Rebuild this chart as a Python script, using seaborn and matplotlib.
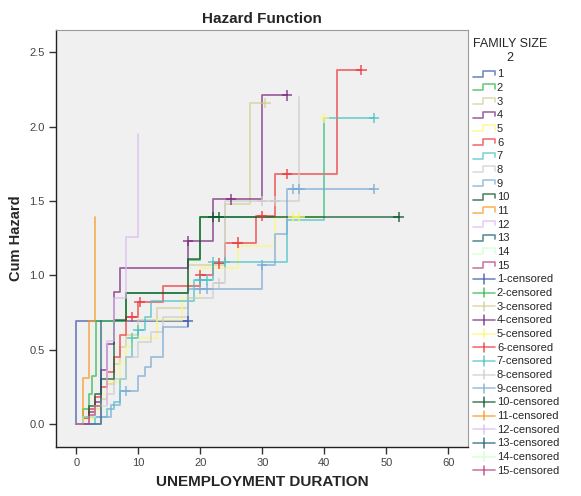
import numpy as np
import pandas as pd
import matplotlib
matplotlib.use("Agg")
import matplotlib.pyplot as plt
import seaborn as sns
from matplotlib.lines import Line2D
from matplotlib.legend_handler import HandlerBase

# ---------------- data ----------------
groups = [str(i) for i in range(1, 16)]
colors = ["#3E58AC", "#2EB848", "#D3CE97", "#7C287D", "#FBF873", "#EF3338", "#48C2C5",
          "#CCCCCC", "#7AAAD5", "#0A562C", "#F8981D", "#DDBAF1", "#1A5F76", "#CCFFCC", "#BB3F7F"]

t1 = [0];  h1 = [0.69];  end1 = 18; c1 = [18]
t2 = [1, 2, 2.5, 3.2, 8, 18, 20, 40];  h2 = [0.1, 0.2, 0.32, 0.69, 0.88, 1.1, 1.39, 2.06];  end2 = 40; c2 = []
t3 = [1, 2, 4, 5, 6, 7, 8, 10, 13, 18, 24, 28]
h3 = [0.05, 0.1, 0.17, 0.27, 0.4, 0.52, 0.6, 0.7, 0.78, 1.07, 1.48, 2.16];  end3 = 30.5; c3 = [30.5]
t4 = [1, 2, 3, 4, 5, 6, 7, 18, 22, 30]
h4 = [0.04, 0.08, 0.15, 0.36, 0.54, 0.89, 1.05, 1.23, 1.51, 2.21];  end4 = 34; c4 = [18, 25, 34]
t5 = [1, 3, 4, 5, 7, 8, 9, 13, 17, 20, 26, 32, 40]
h5 = [0.03, 0.1, 0.2, 0.28, 0.42, 0.52, 0.58, 0.7, 0.85, 1.05, 1.2, 1.39, 2.06];  end5 = 40; c5 = [9, 35, 36, 40]
t6 = [1, 2, 3, 4, 5, 6, 7, 8, 10, 14, 20, 22, 24, 29, 32, 42]
h6 = [0.04, 0.1, 0.18, 0.25, 0.35, 0.45, 0.6, 0.72, 0.82, 0.93, 1.0, 1.08, 1.22, 1.40, 1.68, 2.38]
end6 = 46; c6 = [9, 10.2, 20, 23, 26, 30, 34, 46]
t7 = [3, 5, 6, 7, 8, 9, 10, 11, 12, 19, 22, 34, 40]
h7 = [0.05, 0.1, 0.15, 0.3, 0.45, 0.58, 0.63, 0.72, 0.83, 0.97, 1.09, 1.37, 2.06];  end7 = 48
c7 = [9, 10, 20, 21, 22, 24, 48]
t8 = [2, 3, 5, 6, 8, 10, 12, 14, 18, 22, 24, 36]
h8 = [0.05, 0.12, 0.2, 0.3, 0.45, 0.55, 0.62, 0.72, 0.85, 0.95, 1.5, 2.2];  end8 = 36; c8 = [23, 30, 32]
t9 = [1, 5.5, 7, 10, 11, 12, 14, 18, 30, 32, 34]
h9 = [0.05, 0.13, 0.22, 0.32, 0.38, 0.45, 0.65, 0.91, 1.07, 1.28, 1.58];  end9 = 48
c9 = [8, 20, 21, 30, 35, 36, 48]
t10 = [1, 2, 3, 4, 6, 8, 18, 20];  h10 = [0.05, 0.12, 0.2, 0.3, 0.7, 0.88, 1.11, 1.39];  end10 = 52; c10 = [22, 23, 52]
t11 = [1, 2, 3];  h11 = [0.31, 0.69, 1.39];  end11 = 3; c11 = []
t12 = [4, 5, 6, 8, 10];  h12 = [0.12, 0.56, 0.85, 1.26, 1.95];  end12 = 10; c12 = []
t13 = [4];  h13 = [0.69];  end13 = 4; c13 = []
t14 = [1, 3];  h14 = [0.05, 0.12];  end14 = 5; c14 = []
t15 = [2, 3];  h15 = [0.06, 0.12];  end15 = 4; c15 = []

series = [(t1, h1, end1, c1), (t2, h2, end2, c2), (t3, h3, end3, c3), (t4, h4, end4, c4),
          (t5, h5, end5, c5), (t6, h6, end6, c6), (t7, h7, end7, c7), (t8, h8, end8, c8),
          (t9, h9, end9, c9), (t10, h10, end10, c10), (t11, h11, end11, c11), (t12, h12, end12, c12),
          (t13, h13, end13, c13), (t14, h14, end14, c14), (t15, h15, end15, c15)]

# build long tables
line_rows, cens_rows = [], []
for g, (ts, hs, end, cs) in zip(groups, series):
    xs = [0] + list(ts) + [end]
    ys = [0] + list(hs) + [hs[-1]]
    for k, (x, y) in enumerate(zip(xs, ys)):
        line_rows.append((g, k, x, y))
    ts_arr = np.array(ts)
    hs_arr = np.array([0] + list(hs))
    for c in cs:
        idx = np.searchsorted(ts_arr, c, side="right")
        cens_rows.append((g, c, hs_arr[idx]))
lines = pd.DataFrame(line_rows, columns=["group", "order", "t", "H"])
cens = pd.DataFrame(cens_rows, columns=["group", "t", "H"])

# ---------------- plot ----------------
sns.set_style("white")
plt.rcParams["font.family"] = ["Liberation Sans", "DejaVu Sans"]

fig = plt.figure(figsize=(5.81, 4.96), dpi=100)
ax = fig.add_axes([56 / 581, 1 - 447 / 496, (468 - 56) / 581, (447 - 30) / 496])
ax.set_facecolor("#F0F0F0")

pal = dict(zip(groups, colors))
ALPHA = 0.7
sns.lineplot(data=lines, x="t", y="H", hue="group", hue_order=groups, palette=pal,
             estimator=None, sort=False, drawstyle="steps-post", linewidth=1.3,
             alpha=ALPHA, legend=False, ax=ax)
sns.scatterplot(data=cens, x="t", y="H", hue="group", hue_order=groups, palette=pal,
                marker="+", s=55, linewidth=1.1, alpha=0.85, legend=False, ax=ax, zorder=5)

ax.set_xlim(-3.3, 63.2)
ax.set_ylim(-0.155, 2.65)
ax.set_xticks(range(0, 61, 10))
ax.set_yticks([0, 0.5, 1.0, 1.5, 2.0, 2.5])
ax.set_yticklabels(["0.0", "0.5", "1.0", "1.5", "2.0", "2.5"])
ax.tick_params(axis="both", direction="out", length=5, width=1, color="#333333",
               labelsize=8, labelcolor="#444444", left=True, bottom=True, pad=3)
for s in ["left", "bottom"]:
    ax.spines[s].set_color("#222222")
    ax.spines[s].set_linewidth(1.0)
for s in ["top", "right"]:
    ax.spines[s].set_color("#9A9A9A")
    ax.spines[s].set_linewidth(0.8)

ax.set_xlabel("UNEMPLOYMENT DURATION", fontsize=11, fontweight="bold", labelpad=5)
ax.set_ylabel("Cum Hazard", fontsize=10.5, fontweight="bold", labelpad=5)
ax.set_title("Hazard Function", fontsize=11, fontweight="bold", pad=5)


class StepHandler(HandlerBase):
    def create_artists(self, legend, orig_handle, xdescent, ydescent, width, height, fontsize, trans):
        x0, y0 = -xdescent, -ydescent
        w, h = width, height
        xs = [x0, x0 + 0.45 * w, x0 + 0.45 * w, x0 + w, x0 + w]
        ys = [y0 + 0.1 * h, y0 + 0.1 * h, y0 + 0.85 * h, y0 + 0.85 * h, y0 + 0.3 * h]
        ln = Line2D(xs, ys, color=orig_handle.get_color(), lw=1.2, alpha=ALPHA)
        ln.set_transform(trans)
        return [ln]


class CensHandler(HandlerBase):
    def create_artists(self, legend, orig_handle, xdescent, ydescent, width, height, fontsize, trans):
        x0, y0 = -xdescent, -ydescent
        w, h = width, height
        ym = y0 + 0.45 * h
        a = Line2D([x0, x0 + w], [ym, ym], color=orig_handle.get_color(), lw=1.2, alpha=ALPHA)
        b = Line2D([x0 + 0.5 * w, x0 + 0.5 * w], [y0 - 0.15 * h, y0 + 1.05 * h],
                   color=orig_handle.get_color(), lw=1.1, alpha=0.85)
        a.set_transform(trans)
        b.set_transform(trans)
        return [a, b]


class StepLine(Line2D):
    pass


class CensLine(Line2D):
    pass


handles, labels = [], []
for g, c in zip(groups, colors):
    handles.append(StepLine([], [], color=c))
    labels.append(g)
for g, c in zip(groups, colors):
    handles.append(CensLine([], [], color=c))
    labels.append(f"{g}-censored")

leg = fig.legend(handles, labels, loc="upper left", bbox_to_anchor=(473 / 581, 1 - 38 / 496),
                 frameon=False, fontsize=8, title="FAMILY SIZE\n2", title_fontsize=9,
                 handlelength=2.0, handletextpad=0.15, labelspacing=0.33, borderpad=0,
                 borderaxespad=0,
                 handler_map={StepLine: StepHandler(), CensLine: CensHandler()})
leg.get_title().set_multialignment("center")
leg._legend_box.align = "left"
leg._legend_box.sep = 4

fig.savefig("out.png", dpi=100, facecolor="white")
